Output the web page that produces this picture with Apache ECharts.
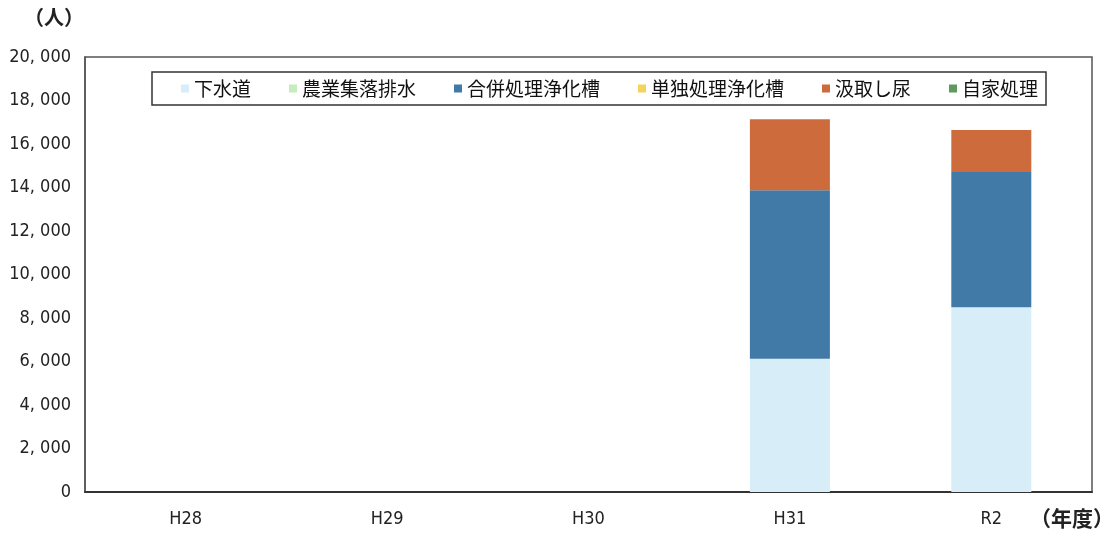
<!DOCTYPE html>
<html>
<head>
<meta charset="utf-8">
<script src="https://cdn.jsdelivr.net/npm/echarts@6/dist/echarts.min.js"></script>
<style>
  html, body { margin: 0; padding: 0; background: #fff; }
  #chart { width: 1112px; height: 537px; }
</style>
</head>
<body>
<div id="chart"></div>
<script>
// 年度別・処理形態別人口（人）
const categories = ['H28', 'H29', 'H30', 'H31', 'R2'];
const seriesNames = ['下水道', '農業集落排水', '合併処理浄化槽', '単独処理浄化槽', '汲取し尿', '自家処理'];
const gesuido      = [null, null, null, 6130, 8490];
const noshuhai     = [null, null, null, 0, 0];
const gappei       = [null, null, null, 7740, 6220];
const tandoku      = [null, null, null, 0, 0];
const kumitori     = [null, null, null, 3270, 1930];
const jika         = [null, null, null, 0, 0];
const yTicks = { min: 0, max: 20000, interval: 2000 };

const values = [gesuido, noshuhai, gappei, tandoku, kumitori, jika];
const colors = ['#d7edf8', '#c4ecbc', '#4179a7', '#f3d35b', '#cd6b3d', '#5f9a5c'];

const labelFont = "'Liberation Sans Narrow', 'DejaVu Sans Condensed', 'Noto Sans CJK JP', sans-serif";
const cjkFont = "'Noto Sans CJK JP', sans-serif";

const chart = echarts.init(document.getElementById('chart'), null, { renderer: 'canvas' });

chart.setOption({
  animation: false,
  backgroundColor: '#ffffff',
  grid: {
    left: 85, right: 20, top: 57, bottom: 45,
    show: true, borderColor: '#555', borderWidth: 1.5, backgroundColor: 'transparent'
  },
  legend: {
    data: seriesNames,
    left: 152, top: 72,
    itemWidth: 8, itemHeight: 8, itemGap: 38,
    icon: 'rect',
    padding: [7, 8, 7, 29],
    borderColor: '#333', borderWidth: 1.5,
    textStyle: { fontFamily: cjkFont, fontSize: 19, color: '#111' }
  },
  xAxis: {
    type: 'category',
    data: categories,
    axisLine: { show: true, lineStyle: { color: '#333', width: 2 } },
    axisTick: { show: false },
    axisLabel: { fontFamily: labelFont, fontSize: 18, color: '#222', margin: 18 }
  },
  yAxis: {
    type: 'value',
    min: yTicks.min, max: yTicks.max, interval: yTicks.interval,
    axisLine: { show: true, lineStyle: { color: '#555', width: 1.5 } },
    axisTick: { show: false },
    splitLine: { show: false },
    axisLabel: {
      fontFamily: labelFont, fontSize: 18, color: '#222', margin: 14,
      formatter: v => v.toLocaleString('en-US').replace(/,/g, ', ')
    }
  },
  series: seriesNames.map((name, i) => ({
    name,
    type: 'bar',
    stack: 'total',
    barWidth: 80,
    data: values[i],
    itemStyle: { color: colors[i] }
  })),
  graphic: [
    { type: 'text', left: 24, top: 7,
      style: { text: '（人）', font: "bold 20px 'Noto Sans CJK JP'", fill: '#222' } },
    { type: 'text', left: 1030, top: 508,
      style: { text: '（年度）', font: "bold 21px 'Noto Sans CJK JP'", fill: '#222' } }
  ]
});
</script>
</body>
</html>
